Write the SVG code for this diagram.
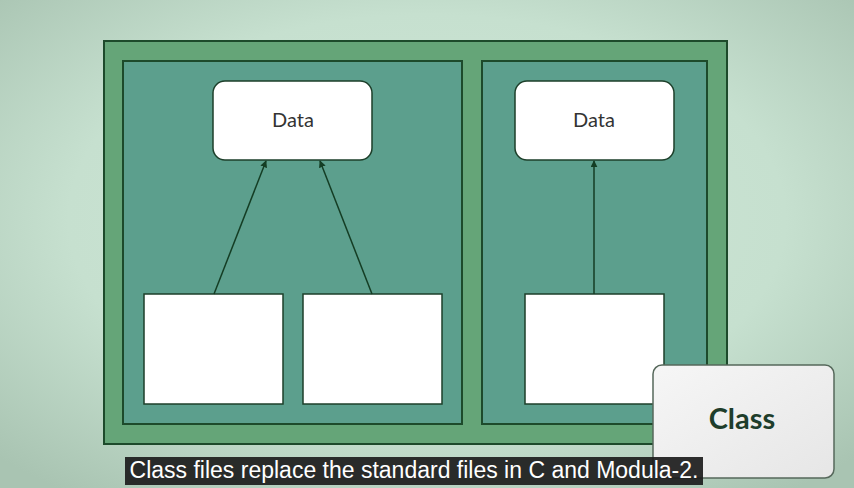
<svg xmlns="http://www.w3.org/2000/svg" width="854" height="488" viewBox="0 0 854 488">
<defs>
<radialGradient id="bg" cx="50%" cy="45%" r="70%">
<stop offset="0" stop-color="#cfe7d8"/>
<stop offset="0.6" stop-color="#c6e0cf"/>
<stop offset="1" stop-color="#a9c4b2"/>
</radialGradient>
<linearGradient id="cls" x1="0" y1="0" x2="1" y2="1">
<stop offset="0" stop-color="#f6f6f6"/>
<stop offset="1" stop-color="#e6e6e6"/>
</linearGradient>
<marker id="ah" viewBox="0 0 10 10" refX="9" refY="5" markerWidth="7" markerHeight="7" orient="auto" markerUnits="userSpaceOnUse">
<path d="M0,0 L10,5 L0,10 z" fill="#143d24"/>
</marker>
<style>
.outer{fill:#65a578;stroke:#1d4a2b;stroke-width:2}
.panel{fill:#5c9f8d;stroke:#1d4a2b;stroke-width:2}
.data{fill:#ffffff;stroke:#1d3f2a;stroke-width:1.5}
.box{fill:#ffffff;stroke:#1d3f2a;stroke-width:1.5}
.lbl{font-family:"Lato","Liberation Sans",sans-serif;font-size:20px;fill:#333333;text-anchor:middle}
.conn{stroke:#143d24;stroke-width:1.5;fill:none;marker-end:url(#ah)}
</style>
</defs>
<rect x="0" y="0" width="854" height="488" fill="url(#bg)"/>
<g id="outer"><rect class="outer" x="104" y="41" width="623" height="403"/></g>
<g id="panel-left"><rect class="panel" x="123" y="61" width="339" height="363"/></g>
<g id="panel-right"><rect class="panel" x="482" y="61" width="225" height="363"/></g>
<g id="data-left"><rect class="data" x="213" y="81" width="159" height="79" rx="12"/><text class="lbl" x="293" y="127">Data</text></g>
<g id="data-right"><rect class="data" x="515" y="81" width="159" height="79" rx="12"/><text class="lbl" x="594" y="127">Data</text></g>
<g id="box1"><rect class="box" x="144" y="294" width="139" height="110"/></g>
<g id="box2"><rect class="box" x="303" y="294" width="139" height="110"/></g>
<g id="box3"><rect class="box" x="525" y="294" width="139" height="110"/></g>
<g id="connectors">
<line class="conn" x1="214" y1="294" x2="266" y2="161"/>
<line class="conn" x1="372" y1="294" x2="320" y2="161"/>
<line class="conn" x1="594" y1="294" x2="594" y2="161"/>
</g>
<g id="class"><rect x="653" y="365" width="181" height="113" rx="9" fill="url(#cls)" stroke="#56685b" stroke-width="1.5"/><text x="742" y="429" font-family="Lato,'Liberation Sans',sans-serif" font-size="29" font-weight="bold" fill="#1e3d2b" text-anchor="middle">Class</text></g>
<g id="caption"><rect x="125" y="457" width="578" height="28" fill="#1c1c1c" fill-opacity="0.92"/><text x="414" y="478" font-family="'Liberation Sans',Arial,sans-serif" font-size="23" fill="#ffffff" text-anchor="middle">Class files replace the standard files in C and Modula-2.</text></g>
</svg>
